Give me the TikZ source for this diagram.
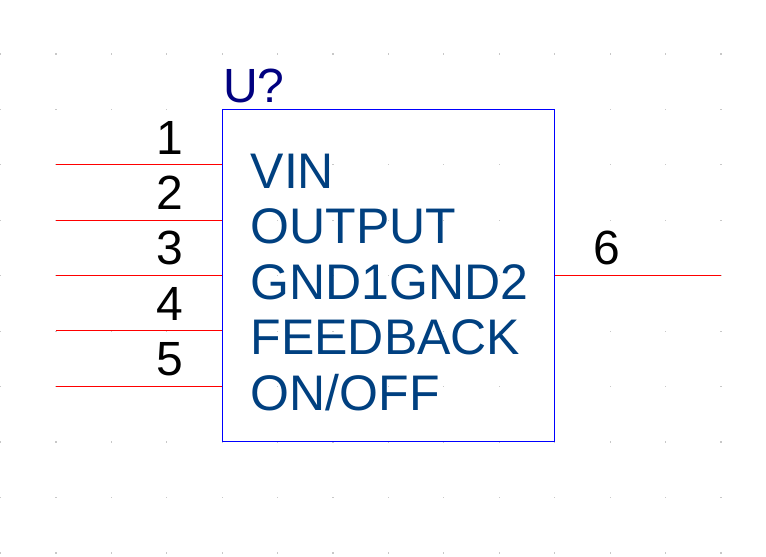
\documentclass[tikz,border=0pt]{standalone}
\usepackage{fontspec}
\setmainfont{Liberation Sans}
\definecolor{boxblue}{RGB}{0,0,255}
\definecolor{pinred}{RGB}{255,0,0}
\definecolor{pinname}{RGB}{0,64,128}
\definecolor{refblue}{RGB}{0,0,128}
\definecolor{griddot}{RGB}{200,200,200}
\tikzset{x=1pt,y=-1pt,
 pinline/.style={draw=pinred,line width=1pt},
 pinnum/.style={font=\fontsize{48}{48}\selectfont,text=black,inner sep=0pt,anchor=center},
 pinlabel/.style={font=\fontsize{50}{50}\selectfont,text=pinname,inner sep=0pt,anchor=west}}
\begin{document}
\begin{tikzpicture}
\useasboundingbox[fill=white] (0,0) rectangle (766,557);
\foreach \c in {0,...,13}{\foreach \r in {0,...,9}{
  \fill[griddot] ({\c*55.42-0.1},{53.4+\r*55.45-0.1}) rectangle ++(1.2,1.2);}}
\node[draw=boxblue,line width=1pt,minimum width=332pt,minimum height=332pt,inner sep=0pt,anchor=north west,outer sep=0pt] (box) at (222.5,109.5) {};
\node[font=\fontsize{48}{48}\selectfont,text=refblue,inner sep=0pt,anchor=west] (ref) at (223,86) {U?};
\coordinate (p1) at (222,164.5);\coordinate (e1) at (55.5,164.5);
\coordinate (p2) at (222,220.5);\coordinate (e2) at (55.5,220.5);
\coordinate (p3) at (222,275.5);\coordinate (e3) at (55.5,275.5);
\coordinate (p4) at (222,330.5);\coordinate (e4) at (55.5,330.5);
\coordinate (p5) at (222,386.5);\coordinate (e5) at (55.5,386.5);
\coordinate (p6) at (555,275.5);\coordinate (e6) at (721,275.5);
\foreach \i in {1,...,6}{\draw[pinline] (p\i) -- (e\i);}
\node[pinnum] (n1) at (169.5,138) {1};
\node[pinnum] (n2) at (169.5,193) {2};
\node[pinnum] (n3) at (169.5,248) {3};
\node[pinnum] (n4) at (169.5,304) {4};
\node[pinnum] (n5) at (169.5,359) {5};
\node[pinnum] (n6) at (607,248) {6};
\node[pinlabel] (l1) at (250.5,171) {VIN};
\node[pinlabel] (l2) at (250.5,226) {OUTPUT};
\node[pinlabel] (l3) at (250.5,282) {GND1GND2};
\node[pinlabel] (l4) at (250.5,337) {FEEDBACK};
\node[pinlabel] (l5) at (250.5,393) {ON/OFF};
\end{tikzpicture}
\end{document}
